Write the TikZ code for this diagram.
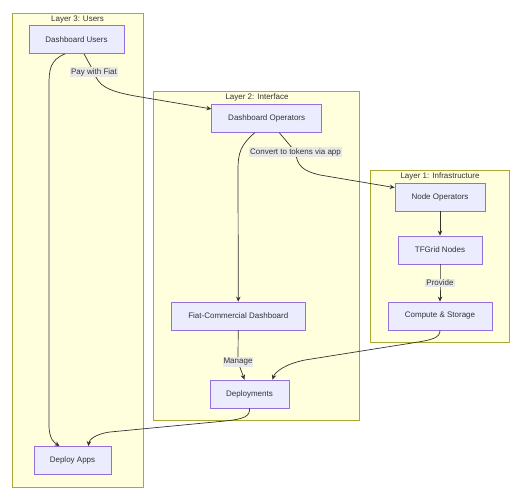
\documentclass[tikz,border=0pt]{standalone}
\usepackage{fontspec}
\setmainfont{Liberation Sans}
\usetikzlibrary{arrows.meta}
\definecolor{boxfill}{HTML}{ECECFF}
\definecolor{boxline}{HTML}{9370DB}
\definecolor{clfill}{HTML}{FFFFDE}
\definecolor{clline}{HTML}{AAAA33}
\definecolor{ink}{HTML}{333333}
\definecolor{lblfill}{HTML}{E8E8E8}
\begin{document}
\begin{tikzpicture}[x=1pt,y=-1pt,font=\fontsize{8}{9.6}\selectfont,text=ink,
    box/.style={rectangle,draw=boxline,fill=boxfill,minimum height=28pt,inner sep=0pt,line width=0.8pt},
    cluster/.style={rectangle,draw=clline,fill=clfill,inner sep=0pt,line width=0.8pt},
    lbl/.style={fill=lblfill,inner sep=1pt},
    conn/.style={->,draw=ink,line width=0.7pt},
    >={Stealth[length=5pt,width=4.5pt]}]
    \useasboundingbox (0,0) rectangle (525,500);
    \node (l3) at (77.5,250) [cluster,minimum width=131pt,minimum height=474pt] {};
    \node (l2) at (256.4,256.3) [cluster,minimum width=206pt,minimum height=329pt] {};
    \node (l1) at (439.5,256) [cluster,minimum width=139pt,minimum height=172pt] {};
    \node (t3) at (77.5,19.5) {Layer 3: Users}; \node (t2) at (257,97.5)
    {Layer 2: Interface}; \node (t1) at (440,176.5) {Layer 1: Infrastructure};
    \node (users) at (76.5,39.5) [box,minimum width=95pt] {Dashboard Users};
    \node (deploy) at (72.5,460.5) [box,minimum width=77pt] {Deploy Apps};
    \node (ops) at (266.7,118.3) [box,minimum width=110pt] {Dashboard Operators};
    \node (fiat) at (238.3,316) [box,minimum width=134.7pt] {Fiat-Commercial Dashboard};
    \node (deployments) at (249.5,394) [box,minimum width=79pt] {Deployments};
    \node (nodeops) at (440,197) [box,minimum width=90pt] {Node Operators};
    \node (tfgrid) at (440,250) [box,minimum width=84pt] {TFGrid Nodes};
    \node (compute) at (440,316) [box,minimum width=104pt] {Compute \& Storage};
    \draw[conn] ([xshift=-11.5pt]users.south) .. controls (50,60) and (49,70) .. (49,85)
    -- (49,425) .. controls (49,440) and (55,443) .. ([xshift=-13pt]deploy.north);
    \draw[conn] ([xshift=7.5pt]users.south) -- (94,72) node[lbl] (pay) {Pay with Fiat}
    .. controls (98,86) and (108,91) .. (135,96) -- ([yshift=-5pt]ops.north west);
    \draw[conn] ([xshift=-12pt]ops.south) .. controls (241,145) and (238,152) .. (238,170)
    -- (fiat.north);
    \draw[conn] ([xshift=12.6pt]ops.south) -- (295.5,152) node[lbl] (conv) {Convert to tokens via app}
    .. controls (297,166) and (303,171) .. (320,175) -- ([yshift=-5pt]nodeops.north west);
    \draw[conn] (nodeops) -- (tfgrid);
    \draw[conn] (tfgrid) -- (440,283) node[lbl] (prov) {Provide} -- (compute);
    \draw[conn] (fiat) -- (238,362) node[lbl] (mng) {Manage} -- ([xshift=-5pt]deployments.north);
    \draw[conn] (compute.south) .. controls (440,338) and (432,340) .. (412,343) -- (305,360)
    .. controls (285,364) and (275,372) .. ([xshift=23pt]deployments.north);
    \draw[conn] (deployments.south) .. controls (250,416) and (245,419) .. (225,421) -- (110,432)
    .. controls (95,434) and (89,440) .. ([xshift=16pt]deploy.north);
  \end{tikzpicture}
\end{document}
